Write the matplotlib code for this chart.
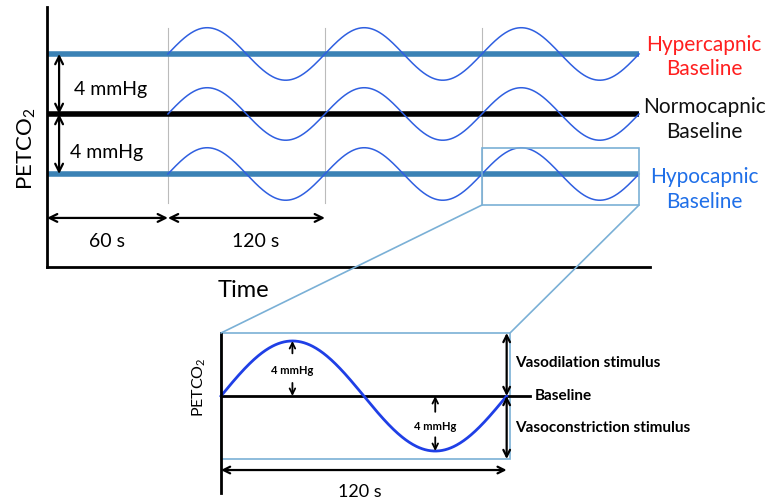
import numpy as np
import matplotlib.pyplot as plt
from matplotlib.patches import Rectangle, ConnectionPatch

plt.rcParams['font.family'] = ['Lato', 'DejaVu Sans']

# protocol values (mmHg relative to normocapnia, seconds)
levels = [4, 0, -4]
names = ['Hypercapnic\nBaseline', 'Normocapnic\nBaseline', 'Hypocapnic\nBaseline']
name_colors = ['#ff1f1f', '#111111', '#1f6fe8']
line_colors = ['#3b82b5', '#000000', '#3b82b5']
label_dy = [-0.2, -0.35, -1.05]
lead_in = 60
period = 120
n_cycles = 3
top_amp = 1.75      # drawn amplitude in the overview
zoom_amp = 4        # stimulus amplitude, mmHg
step = 4            # baseline step, mmHg

# lead-in phase drawn wider than to scale
k = 1.54
def fwd(t):
    t = np.asarray(t, dtype=float)
    return np.where(t < lead_in, k * t, k * lead_in + (t - lead_in))
def inv(u):
    u = np.asarray(u, dtype=float)
    return np.where(u < k * lead_in, u / k, u - k * lead_in + lead_in)

fig = plt.figure(figsize=(7.73, 5.03), dpi=100)
ax = fig.add_axes([47 / 773, 1 - 267 / 503, 603 / 773, 260 / 503])
ax.set_xscale('function', functions=(fwd, inv))
t_end = lead_in + n_cycles * period
ax.set_xlim(0, t_end + 8.4)
ax.set_ylim(-10.2, 7.13)
for s in ['top', 'right']:
    ax.spines[s].set_visible(False)
for s in ['left', 'bottom']:
    ax.spines[s].set_linewidth(2)
ax.set_xticks([])
ax.set_yticks([])
ax.minorticks_off()

# cycle markers
for c in range(n_cycles):
    ax.plot([lead_in + c * period] * 2, [5.75, -5.95], color='#bbbbbb', lw=0.8, zorder=1)

t = np.linspace(lead_in, t_end, 600)
for lev, lc, nm, nc, dy in zip(levels, line_colors, names, name_colors, label_dy):
    ax.plot([0, t_end], [lev, lev], color=lc, lw=4, solid_capstyle='butt', zorder=2)
    ax.plot(t, lev + top_amp * np.sin(2 * np.pi * (t - lead_in) / period),
            color='#2f5fe0', lw=1.1, zorder=3)
    ax.text(1.09, lev + dy, nm, transform=ax.get_yaxis_transform(), ha='center',
            va='center', fontsize=15, color=nc, linespacing=1.3)

arrow = dict(arrowstyle='<->', color='black', lw=1.6, mutation_scale=14, shrinkA=0, shrinkB=0)
ax.annotate('', xy=(6, levels[0]), xytext=(6, levels[1]), arrowprops=arrow)
ax.annotate('', xy=(6, levels[1]), xytext=(6, levels[2]), arrowprops=arrow)
ax.text(31.5, 1.6, f'{step} mmHg', ha='center', va='center', fontsize=14)
ax.text(29.5, -2.55, f'{step} mmHg', ha='center', va='center', fontsize=14)

ax.annotate('', xy=(0, -6.93), xytext=(lead_in, -6.93), arrowprops=arrow)
ax.annotate('', xy=(lead_in, -6.93), xytext=(lead_in + period, -6.93), arrowprops=arrow)
ax.text(29.7, -8.5, f'{lead_in} s', ha='center', va='center', fontsize=14)
ax.text(127, -8.5, f'{period} s', ha='center', va='center', fontsize=14)

ax.text(-0.034, 0.455, r'PETCO$_\mathregular{2}$', transform=ax.transAxes, rotation=90,
        ha='center', va='center', fontsize=16)
ax.text(0.325, -0.09, 'Time', transform=ax.transAxes, ha='center', va='center', fontsize=17)

# zoom box on last hypocapnic cycle
box_lo, box_hi = -6.07, -2.27
z0 = lead_in + (n_cycles - 1) * period
ax.add_patch(Rectangle((z0, box_lo), period, box_hi - box_lo, fill=False,
                       edgecolor='#7ab0d6', lw=1.2, zorder=4))

# detailed single cycle
bx = fig.add_axes([221 / 773, 10 / 503, 289 / 773, 160 / 503])
bx.set_xlim(0, 121.4)
bx.set_ylim(-7.05, 4.58)
for s in ['top', 'right', 'bottom']:
    bx.spines[s].set_visible(False)
bx.spines['left'].set_linewidth(2)
bx.set_xticks([])
bx.set_yticks([])
bx.add_patch(Rectangle((0, -4.58), 121.4, 9.16, fill=False, edgecolor='#7ab0d6', lw=1.2,
                       clip_on=False))
bx.plot([0, 129.8], [0, 0], color='black', lw=2, clip_on=False)
tt = np.linspace(0, period, 400)
bx.plot(tt, zoom_amp * np.sin(2 * np.pi * tt / period), color='#1f3fe6', lw=2, clip_on=False)

small = dict(arrowstyle='->', color='black', lw=1.3, mutation_scale=10, shrinkA=0, shrinkB=0)
bx.annotate('', xy=(period / 4, zoom_amp), xytext=(period / 4, 3.1), arrowprops=small)
bx.annotate('', xy=(period / 4, 0), xytext=(period / 4, 0.95), arrowprops=small)
bx.text(period / 4, 1.85, f'{zoom_amp} mmHg', ha='center', va='center', fontsize=8, fontweight='bold')
bx.annotate('', xy=(3 * period / 4, 0), xytext=(3 * period / 4, -1.15), arrowprops=small)
bx.annotate('', xy=(3 * period / 4, -zoom_amp), xytext=(3 * period / 4, -3.0), arrowprops=small)
bx.text(3 * period / 4, -2.25, f'{zoom_amp} mmHg', ha='center', va='center', fontsize=8, fontweight='bold')

big = dict(arrowstyle='<->', color='black', lw=1.6, mutation_scale=12, shrinkA=0, shrinkB=0)
bx.annotate('', xy=(period, 4.58), xytext=(period, 0), arrowprops=big, annotation_clip=False)
bx.annotate('', xy=(period, 0), xytext=(period, -4.58), arrowprops=big, annotation_clip=False)
bx.text(123.5, 2.4, 'Vasodilation stimulus', va='center', fontsize=11, fontweight='bold')
bx.text(132, 0, 'Baseline', va='center', fontsize=11, fontweight='bold')
bx.text(123.5, -2.3, 'Vasoconstriction stimulus', va='center', fontsize=11, fontweight='bold')

bx.annotate('', xy=(0, -5.38), xytext=(period, -5.38), arrowprops=big, annotation_clip=False)
bx.text(58.5, -7.0, f'{period} s', ha='center', va='center', fontsize=13, clip_on=False)
bx.text(-0.075, 0.66, r'PETCO$_\mathregular{2}$', transform=bx.transAxes, rotation=90,
        ha='center', va='center', fontsize=11.5)

for xa, xb in [(z0, 0), (z0 + period, 121.4)]:
    fig.add_artist(ConnectionPatch(xyA=(xa, box_lo), coordsA=ax.transData,
                                   xyB=(xb, 4.58), coordsB=bx.transData,
                                   color='#7ab0d6', lw=1.2))

fig.savefig('out.png', dpi=100)
